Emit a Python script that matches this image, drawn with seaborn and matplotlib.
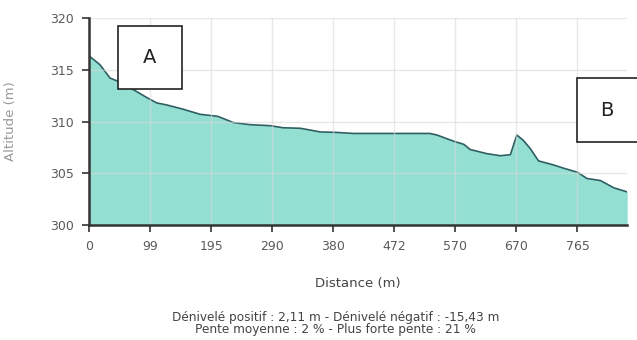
import numpy as np
import pandas as pd
import seaborn as sns
import matplotlib.pyplot as plt
from matplotlib.patches import Rectangle

# profil altimétrique
distance = [0, 17, 33, 45, 69, 91, 106, 122, 147, 174, 202, 226, 252, 284, 304, 331,
            362, 388, 414, 534, 545, 571, 587, 597, 623, 644, 660, 670, 680, 691,
            704, 728, 743, 765, 780, 801, 822, 843]
altitude = [316.35, 315.5, 314.2, 313.9, 313.1, 312.3, 311.8, 311.6, 311.2, 310.7,
            310.5, 309.9, 309.7, 309.6, 309.4, 309.35, 309.0, 308.95, 308.85, 308.85,
            308.7, 308.1, 307.8, 307.3, 306.9, 306.7, 306.8, 308.7, 308.2, 307.4,
            306.2, 305.8, 305.5, 305.1, 304.5, 304.3, 303.6, 303.2]
tick_labels = ["0", "99", "195", "290", "380", "472", "570", "670", "765"]
y_ticks = [300, 305, 310, 315, 320]

df = pd.DataFrame({"Distance": distance, "Altitude": altitude})

sns.set_theme(style="whitegrid")
plt.rcParams['font.family'] = ['DejaVu Sans']

W, H = 637, 340
fig = plt.figure(figsize=(W / 100, H / 100), dpi=100)
ax = fig.add_axes([0.1397, 0.338, 0.845, 0.609])

ax.fill_between(df["Distance"], df["Altitude"], 300, color="#93e0d3", zorder=1, lw=0)
sns.lineplot(ax=ax, data=df, x="Distance", y="Altitude", color="#2f5f62", lw=1.2, zorder=2)

step = 765 / 8
ax.set_xticks(np.arange(len(tick_labels)) * step)
ax.set_xticklabels(tick_labels)
ax.set_yticks(y_ticks)
ax.set_xlim(0, distance[-1])
ax.set_ylim(300, 320)

ax.grid(True, color="#d9d9d9", lw=1)
ax.set_axisbelow(False)
for gl in ax.get_xgridlines() + ax.get_ygridlines():
    gl.set_zorder(1.5)
    gl.set_alpha(0.6)

for s in ["top", "right"]:
    ax.spines[s].set_visible(False)
for s in ["left", "bottom"]:
    ax.spines[s].set_color("#333333")
    ax.spines[s].set_linewidth(1.8)
    ax.spines[s].set_zorder(3)

ax.tick_params(axis="both", which="major", length=5, width=1.2, color="#333333",
               labelsize=9, labelcolor="#5a5a5a", pad=6, bottom=True, left=True)

ax.set_xlabel("Distance (m)", fontsize=9.5, color="#444444", labelpad=17)
ax.set_ylabel("Altitude (m)", fontsize=9.5, color="#999999")
ax.yaxis.set_label_coords(-0.134, 0.5)

# cadres A et B (coordonnées en pixels de la figure)
def boite(x0, y0, x1, y1, lettre):
    fig.patches.append(Rectangle((x0 / W, 1 - y1 / H), (x1 - x0) / W, (y1 - y0) / H,
                                 transform=fig.transFigure, fc="white", ec="#222222",
                                 lw=1.2, zorder=5))
    fig.text((x0 + x1) / 2 / W, 1 - (y0 + y1) / 2 / H, lettre, ha="center", va="center",
             fontsize=14, color="#222222", zorder=6)

boite(118, 26, 182, 89, "A")
boite(577, 78, 645, 142, "B")
fig.texts[-1].set_x(607 / W)

fig.text(0.527, 1 - 318 / H, "Dénivelé positif : 2,11 m - Dénivelé négatif : -15,43 m",
         ha="center", va="center", fontsize=8.7, color="#444444")
fig.text(0.527, 1 - 330 / H, "Pente moyenne : 2 % - Plus forte pente : 21 %",
         ha="center", va="center", fontsize=8.7, color="#444444")

fig.savefig("out.png", dpi=100)
